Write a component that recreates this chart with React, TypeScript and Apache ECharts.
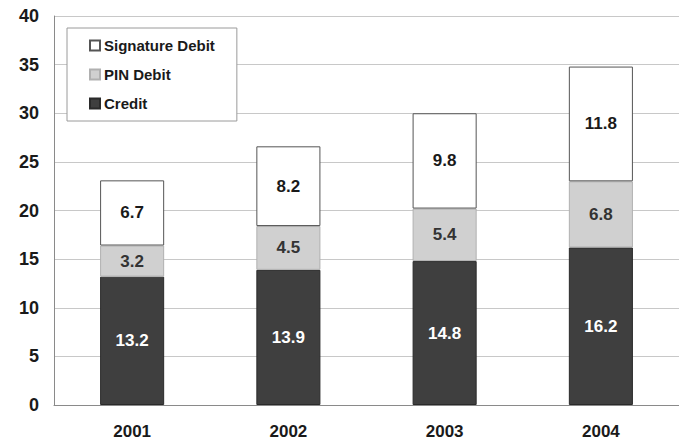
import React, { useEffect, useRef } from "react";
import * as echarts from "echarts";

const years = ["2001", "2002", "2003", "2004"];
const credit = [13.2, 13.9, 14.8, 16.2];
const pinDebit = [3.2, 4.5, 5.4, 6.8];
const signatureDebit = [6.7, 8.2, 9.8, 11.8];

const FONT = "'Liberation Sans', Arial, sans-serif";

export default function App() {
  const ref = useRef<HTMLDivElement>(null);
  useEffect(() => {
    if (!ref.current) return;
    const chart = echarts.init(ref.current, null, { renderer: "svg" });
    const label = (color: string) => ({
      show: true,
      position: "inside",
      color,
      fontFamily: FONT,
      fontWeight: "bold",
      fontSize: 17,
    });
    chart.setOption({
      animation: false,
      backgroundColor: "#ffffff",
      grid: { left: 54, right: 0, top: 16, bottom: 43 },
      legend: {
        orient: "vertical",
        left: 67,
        top: 28,
        padding: [10, 22, 10, 22],
        itemGap: 14,
        itemWidth: 10,
        itemHeight: 10,
        icon: "rect",
        borderColor: "#9a9a9a",
        borderWidth: 1,
        backgroundColor: "#ffffff",
        data: ["Signature Debit", "PIN Debit", "Credit"],
        textStyle: { fontFamily: FONT, fontWeight: "bold", fontSize: 15, color: "#1a1a1a", padding: [0, 0, 0, -1] },
      },
      xAxis: {
        type: "category",
        data: years,
        axisLine: { show: true, lineStyle: { color: "#8a8a8a" } },
        axisTick: { show: false },
        axisLabel: { fontFamily: FONT, fontWeight: "bold", fontSize: 17, color: "#1a1a1a", margin: 18 },
      },
      yAxis: {
        type: "value",
        min: 0,
        max: 40,
        interval: 5,
        axisLine: { show: true, lineStyle: { color: "#8a8a8a" } },
        axisTick: { show: false },
        splitLine: { show: true, lineStyle: { color: "#c8c8c8" } },
        axisLabel: { fontFamily: FONT, fontWeight: "bold", fontSize: 18, color: "#1a1a1a", margin: 15 },
      },
      series: [
        {
          name: "Credit",
          type: "bar",
          stack: "total",
          data: credit,
          barWidth: "41%",
          itemStyle: { color: "#3f3f3f", borderColor: "#2a2a2a", borderWidth: 1 },
          label: label("#ffffff"),
        },
        {
          name: "PIN Debit",
          type: "bar",
          stack: "total",
          data: pinDebit,
          itemStyle: { color: "#d0d0d0", borderColor: "#b0b0b0", borderWidth: 1 },
          label: label("#333333"),
        },
        {
          name: "Signature Debit",
          type: "bar",
          stack: "total",
          data: signatureDebit,
          itemStyle: { color: "#ffffff", borderColor: "#555555", borderWidth: 1 },
          label: label("#1a1a1a"),
        },
      ],
    });
    return () => chart.dispose();
  }, []);
  return <div ref={ref} style={{ width: 679, height: 448, position: "absolute", left: 0, top: 0 }} />;
}
